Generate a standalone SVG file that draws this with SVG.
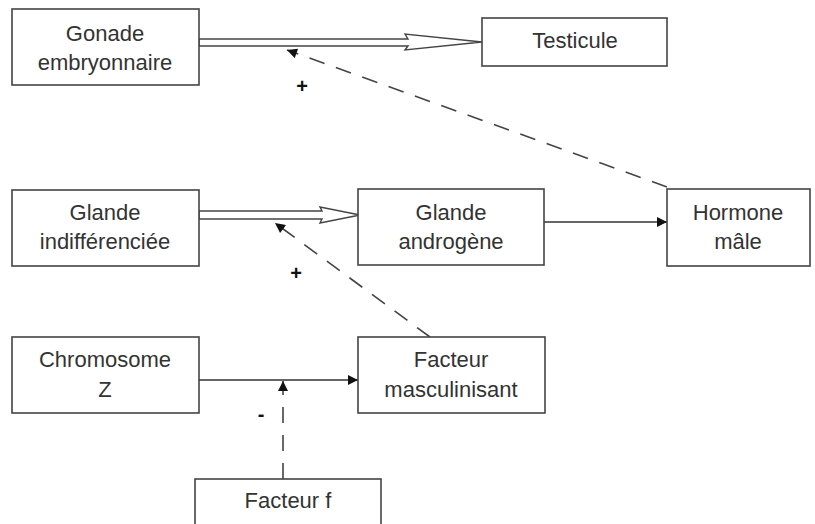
<svg xmlns="http://www.w3.org/2000/svg" width="815" height="524" viewBox="0 0 815 524">
<defs>
<style>
.box{fill:#fff;stroke:#444;stroke-width:1.6}
.t{font-family:"Liberation Sans",Arial,sans-serif;font-size:22px;fill:#333;text-anchor:middle}
.sign{font-family:"Liberation Sans",Arial,sans-serif;font-size:20px;font-weight:bold;fill:#111;text-anchor:middle}
.line{fill:none;stroke:#333;stroke-width:1.6}
.dash{fill:none;stroke:#444;stroke-width:1.6;stroke-dasharray:16 12}
.hollow{fill:#fff;stroke:#444;stroke-width:1.4;stroke-linejoin:miter}
</style>
<marker id="ah" viewBox="0 0 10 10" refX="10" refY="5" markerWidth="12" markerHeight="10" markerUnits="userSpaceOnUse" orient="auto">
<path d="M0,0 L10,5 L0,10 z" fill="#111"/>
</marker>
</defs>
<rect width="815" height="524" fill="#fff"/>
<g id="connectors">
<polygon class="hollow" points="199,39 408,39 405,34 482,42 405,50 408,46 199,46"/>
<polygon class="hollow" points="199,211 322,211 320,207 360,215 320,223 322,219 199,219"/>
<line class="line" x1="544" y1="222" x2="667" y2="222" marker-end="url(#ah)"/>
<line class="line" x1="199" y1="380" x2="358" y2="380" marker-end="url(#ah)"/>
<line class="dash" x1="667" y1="187" x2="287" y2="50" marker-end="url(#ah)"/>
<line class="dash" x1="430" y1="337" x2="275" y2="223" marker-end="url(#ah)"/>
<line class="dash" x1="283" y1="479" x2="283" y2="381" marker-end="url(#ah)"/>
<text class="sign" x="302" y="93">+</text>
<text class="sign" x="296" y="280">+</text>
<text class="sign" x="261" y="421">-</text>
</g>
<g id="gonade">
<rect class="box" x="12" y="9" width="187" height="76"/>
<text class="t" x="105" y="41">Gonade</text>
<text class="t" x="105" y="70">embryonnaire</text>
</g>
<g id="testicule">
<rect class="box" x="482" y="18" width="185" height="48"/>
<text class="t" x="575" y="48">Testicule</text>
</g>
<g id="glande-indiff">
<rect class="box" x="12" y="190" width="187" height="76"/>
<text class="t" x="105" y="220">Glande</text>
<text class="t" x="105" y="249">indifférenciée</text>
</g>
<g id="glande-androgene">
<rect class="box" x="358" y="189" width="186" height="76"/>
<text class="t" x="451" y="220">Glande</text>
<text class="t" x="451" y="249">androgène</text>
</g>
<g id="hormone">
<rect class="box" x="667" y="189" width="143" height="77"/>
<text class="t" x="738" y="220">Hormone</text>
<text class="t" x="738" y="249">mâle</text>
</g>
<g id="chromosome">
<rect class="box" x="12" y="337" width="187" height="76"/>
<text class="t" x="105" y="367">Chromosome</text>
<text class="t" x="105" y="397">Z</text>
</g>
<g id="facteur-masc">
<rect class="box" x="358" y="337" width="187" height="76"/>
<text class="t" x="451" y="367">Facteur</text>
<text class="t" x="451" y="397">masculinisant</text>
</g>
<g id="facteur-f">
<rect class="box" x="195" y="479" width="186" height="60"/>
<text class="t" x="288" y="508">Facteur f</text>
</g>
</svg>
